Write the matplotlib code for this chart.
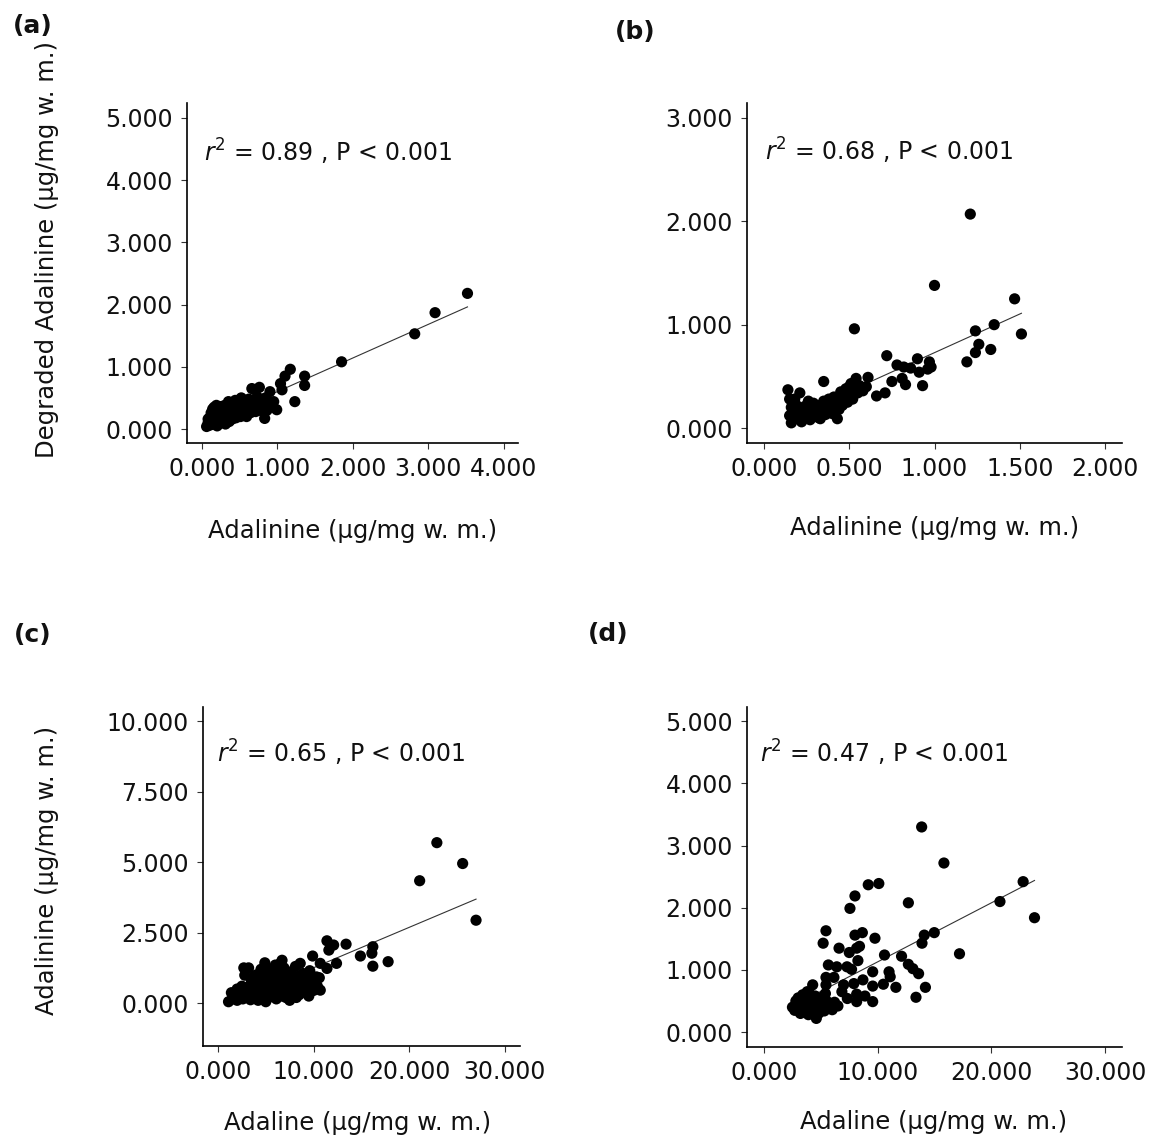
import numpy as np
import matplotlib
matplotlib.use("Agg")
import matplotlib.pyplot as plt

plt.rcParams['font.family'] = ['DejaVu Sans']
plt.rcParams['mathtext.fontset'] = 'dejavusans'

# ---------------- data ----------------
# (a) Adalinine vs Degraded Adalinine
a_x = [3.52, 3.09, 2.82, 1.85, 1.36, 1.36, 1.23, 1.17, 1.10, 1.04,
       1.06, 0.99, 0.90, 0.95, 0.66, 0.76, 0.83,
       0.06, 0.08, 0.10, 0.12, 0.13, 0.14, 0.15, 0.16, 0.17, 0.18,
       0.19, 0.20, 0.21, 0.22, 0.23, 0.24, 0.25, 0.26, 0.27, 0.28,
       0.29, 0.30, 0.31, 0.32, 0.33, 0.34, 0.35, 0.36, 0.37, 0.38,
       0.39, 0.40, 0.41, 0.42, 0.43, 0.44, 0.45, 0.46, 0.47, 0.48,
       0.50, 0.51, 0.52, 0.53, 0.54, 0.55, 0.56, 0.58, 0.59, 0.60,
       0.62, 0.63, 0.64, 0.66, 0.68, 0.70, 0.71, 0.73, 0.75, 0.77,
       0.79, 0.81, 0.84, 0.86, 0.88, 0.92, 0.10, 0.12, 0.14, 0.08]
a_y = [2.18, 1.87, 1.53, 1.08, 0.85, 0.70, 0.44, 0.96, 0.85, 0.73,
       0.63, 0.31, 0.60, 0.44, 0.65, 0.67, 0.17,
       0.04, 0.10, 0.06, 0.14, 0.20, 0.08, 0.28, 0.35, 0.12, 0.22,
       0.38, 0.05, 0.30, 0.16, 0.26, 0.36, 0.10, 0.20, 0.32, 0.14,
       0.24, 0.38, 0.08, 0.28, 0.18, 0.34, 0.44, 0.12, 0.24, 0.30,
       0.40, 0.16, 0.22, 0.34, 0.28, 0.46, 0.18, 0.38, 0.26, 0.32,
       0.42, 0.20, 0.50, 0.30, 0.24, 0.36, 0.44, 0.28, 0.20, 0.38,
       0.48, 0.32, 0.26, 0.40, 0.34, 0.46, 0.28, 0.52, 0.38, 0.30,
       0.44, 0.36, 0.50, 0.30, 0.42, 0.36, 0.18, 0.26, 0.32, 0.16]

# (b)
b_x = [1.21, 1.00, 1.47, 1.51, 1.35, 1.24, 1.26, 1.24, 1.33, 1.19,
       0.53, 0.72, 0.90, 0.97, 0.98, 0.96, 0.91, 0.86, 0.82, 0.78,
       0.93, 0.83, 0.81, 0.75, 0.71, 0.66, 0.61, 0.60, 0.54, 0.55,
       0.50, 0.47, 0.35, 0.14, 0.15, 0.21, 0.43, 0.16,
       0.15, 0.16, 0.17, 0.18, 0.19, 0.20, 0.21, 0.22, 0.23, 0.24,
       0.25, 0.26, 0.27, 0.28, 0.29, 0.30, 0.31, 0.32, 0.33, 0.34,
       0.35, 0.36, 0.37, 0.38, 0.39, 0.40, 0.41, 0.42, 0.44, 0.45,
       0.46, 0.47, 0.48, 0.49, 0.50, 0.51, 0.52, 0.53, 0.56, 0.58,
       0.40, 0.44, 0.18, 0.26, 0.33]
b_y = [2.07, 1.38, 1.25, 0.91, 1.00, 0.94, 0.81, 0.73, 0.76, 0.64,
       0.96, 0.70, 0.67, 0.64, 0.59, 0.57, 0.54, 0.58, 0.59, 0.61,
       0.41, 0.42, 0.48, 0.45, 0.34, 0.31, 0.49, 0.40, 0.48, 0.34,
       0.40, 0.34, 0.45, 0.37, 0.28, 0.34, 0.09, 0.05,
       0.12, 0.20, 0.08, 0.15, 0.22, 0.10, 0.17, 0.06, 0.14, 0.21,
       0.11, 0.18, 0.08, 0.15, 0.24, 0.12, 0.19, 0.10, 0.22, 0.16,
       0.26, 0.13, 0.20, 0.28, 0.17, 0.24, 0.30, 0.20, 0.27, 0.35,
       0.22, 0.29, 0.38, 0.25, 0.32, 0.43, 0.28, 0.37, 0.41, 0.36,
       0.14, 0.18, 0.28, 0.26, 0.09]

# (c) Adaline vs Adalinine
c_x = [22.9, 25.6, 21.1, 27.0, 17.8, 16.2, 16.1, 16.2, 14.9, 13.4,
       12.1, 11.4, 11.6, 12.4, 11.4, 10.7, 9.9, 10.3, 10.7, 8.6,
       6.7, 4.9, 2.7, 3.2, 2.8, 1.1, 1.4,
       1.5, 1.8, 2.0, 2.2, 2.4, 2.6, 2.8, 3.0, 3.1, 3.3,
       3.4, 3.6, 3.7, 3.9, 4.0, 4.1, 4.2, 4.3, 4.4, 4.5,
       4.6, 4.7, 4.8, 4.9, 5.0, 5.1, 5.2, 5.3, 5.4, 5.5,
       5.6, 5.7, 5.8, 5.9, 6.0, 6.1, 6.2, 6.3, 6.4, 6.5,
       6.6, 6.7, 6.8, 6.9, 7.0, 7.1, 7.2, 7.3, 7.4, 7.5,
       7.6, 7.7, 7.8, 7.9, 8.0, 8.1, 8.2, 8.3, 8.4, 8.5,
       8.6, 8.8, 8.9, 9.0, 9.2, 9.3, 9.5, 9.6, 9.8, 10.0,
       10.2, 10.4, 10.6, 3.5, 2.5, 4.0, 5.0, 6.0, 4.5, 5.5,
       3.8, 6.5, 7.5, 2.0, 4.2, 5.2, 6.2, 7.2, 8.2, 9.5]
c_y = [5.69, 4.95, 4.34, 2.94, 1.47, 2.00, 1.77, 1.31, 1.67, 2.09,
       2.06, 2.21, 1.88, 1.41, 1.23, 1.41, 1.67, 0.93, 0.46, 1.41,
       1.52, 1.43, 1.25, 1.25, 0.99, 0.05, 0.37,
       0.15, 0.30, 0.10, 0.22, 0.40, 0.15, 0.30, 0.55, 0.20, 0.40,
       0.12, 0.30, 0.60, 0.20, 0.45, 0.80, 0.10, 0.35, 0.62, 0.25,
       0.95, 0.48, 0.15, 0.72, 0.35, 1.10, 0.55, 0.20, 0.85, 0.42,
       0.65, 1.20, 0.30, 0.90, 0.50, 0.15, 0.75, 1.05, 0.38, 0.60,
       0.25, 0.95, 0.45, 1.25, 0.70, 0.20, 0.55, 0.85, 0.35, 1.10,
       0.62, 0.28, 0.90, 0.48, 0.72, 1.30, 0.40, 0.60, 0.95, 0.30,
       0.78, 0.50, 1.05, 0.65, 0.40, 0.85, 0.55, 1.15, 0.70, 0.45,
       0.80, 0.60, 0.90, 0.80, 0.60, 1.00, 0.05, 1.35, 1.20, 1.00,
       0.95, 1.40, 0.10, 0.50, 0.55, 0.75, 0.35, 1.00, 0.20, 0.25]

# (d)
d_x = [13.87, 15.83, 22.8, 20.76, 23.8, 10.1, 9.17, 8.0, 7.56, 12.7,
       17.2, 14.98, 14.1, 13.9, 14.2, 13.37, 13.6, 13.1, 12.7, 12.1,
       10.6, 11.0, 11.1, 10.5, 11.6, 9.76, 8.65, 8.0, 8.15, 7.5,
       8.4, 5.45, 5.2, 6.6, 8.26, 9.56, 9.56, 9.56, 7.3, 7.7,
       5.66, 6.4, 5.45, 6.15, 5.45, 7.0, 7.9, 8.7, 6.85, 7.33,
       8.15, 8.15, 8.88, 4.28, 4.6,
       2.5, 2.7, 2.9, 3.0, 3.1, 3.2, 3.3, 3.4, 3.5, 3.6,
       3.7, 3.8, 3.9, 4.0, 4.1, 4.2, 4.3, 4.4, 4.5, 4.6,
       4.7, 4.8, 4.9, 5.0, 5.1, 5.2, 5.3, 5.5, 5.6, 5.8,
       6.0, 6.2, 6.5, 3.0, 4.0, 3.5, 4.5, 2.8, 3.8, 5.4]
d_y = [3.30, 2.72, 2.42, 2.10, 1.84, 2.39, 2.37, 2.19, 1.99, 2.08,
       1.26, 1.60, 1.56, 1.43, 0.72, 0.56, 0.94, 1.02, 1.09, 1.22,
       1.24, 0.97, 0.89, 0.77, 0.72, 1.51, 1.60, 1.56, 1.35, 1.28,
       1.38, 1.63, 1.43, 1.35, 1.15, 0.97, 0.74, 0.49, 1.05, 1.01,
       1.08, 1.05, 0.88, 0.88, 0.76, 0.76, 0.78, 0.84, 0.65, 0.54,
       0.61, 0.49, 0.58, 0.76, 0.22,
       0.40, 0.35, 0.45, 0.55, 0.38, 0.30, 0.48, 0.60, 0.40, 0.33,
       0.52, 0.45, 0.28, 0.62, 0.38, 0.50, 0.32, 0.44, 0.58, 0.36,
       0.48, 0.30, 0.42, 0.55, 0.38, 0.46, 0.34, 0.50, 0.40, 0.45,
       0.36, 0.48, 0.42, 0.42, 0.42, 0.52, 0.30, 0.50, 0.65, 0.62]

panel_letters = ["(a)", "(b)", "(c)", "(d)"]
stats_text = ["0.89", "0.68", "0.65", "0.47"]
x_labels = ["Adalinine (\u03bcg/mg w. m.)", "Adalinine (\u03bcg/mg w. m.)",
            "Adaline (\u03bcg/mg w. m.)", "Adaline (\u03bcg/mg w. m.)"]
y_labels = ["Degraded Adalinine (\u03bcg/mg w. m.)", "Adalinine (\u03bcg/mg w. m.)"]
x_ticks = [[0, 1, 2, 3, 4], [0, 0.5, 1.0, 1.5, 2.0], [0, 10, 20, 30], [0, 10, 20, 30]]
y_ticks = [[0, 1, 2, 3, 4, 5], [0, 1, 2, 3], [0, 2.5, 5, 7.5, 10], [0, 1, 2, 3, 4, 5]]

# ---------------- layout ----------------
W, H = 1157, 1146
fig = plt.figure(figsize=(W / 100, H / 100), dpi=100)

def box(l, r, t, b):
    return [l / W, 1 - b / H, (r - l) / W, (b - t) / H]

boxes = [box(187, 518, 103, 443), box(747, 1122, 103, 443),
         box(203, 520, 707, 1046), box(747, 1122, 707, 1047)]
xlims = [(-0.20, 4.19), (-0.10, 2.10), (-1.57, 31.6), (-1.50, 31.5)]
ylims = [(-0.225, 5.24), (-0.145, 3.145), (-1.52, 10.5), (-0.24, 5.23)]
data = [(a_x, a_y), (b_x, b_y), (c_x, c_y), (d_x, d_y)]

tick_fs = 17
label_fs = 17.5
ink = '#111111'

for i, (bx, (xs, ys)) in enumerate(zip(boxes, data)):
    ax = fig.add_axes(bx)
    xs = np.asarray(xs, float)
    ys = np.asarray(ys, float)
    ax.scatter(xs, ys, s=65, color='black', edgecolors='none', zorder=3)
    k, c0 = np.polyfit(xs, ys, 1)
    xl = np.array([xs.min(), xs.max()])
    ax.plot(xl, k * xl + c0, color='#333333', lw=0.8, zorder=2)
    ax.set_xlim(*xlims[i])
    ax.set_ylim(*ylims[i])
    ax.set_xticks(x_ticks[i])
    ax.set_yticks(y_ticks[i])
    ax.set_xticklabels(["%.3f" % v for v in x_ticks[i]])
    ax.set_yticklabels(["%.3f" % v for v in y_ticks[i]])
    for s in ['top', 'right']:
        ax.spines[s].set_visible(False)
    for s in ['left', 'bottom']:
        ax.spines[s].set_linewidth(1.2)
        ax.spines[s].set_color('black')
    ax.tick_params(axis='both', length=4, width=0.8, color='#333333',
                   labelsize=tick_fs, labelcolor=ink, pad=6)

# stats text
stat_pos = [(204, 162), (765, 161), (217, 763), (760, 763)]
for (px, py), r in zip(stat_pos, stats_text):
    fig.text(px / W, 1 - py / H, r"$r^2$" + " = %s , P < 0.001" % r,
             ha='left', va='baseline', fontsize=17, color=ink)

# panel letters
letter_pos = [(33, 26), (635, 32), (33, 635), (608, 634)]
for (px, py), t in zip(letter_pos, panel_letters):
    fig.text(px / W, 1 - py / H, t, ha='center', va='center',
             fontsize=18, fontweight='bold', color=ink)

# x labels
xlab_pos = [(353, 531), (935, 528), (358, 1123), (934, 1122)]
for (px, py), t in zip(xlab_pos, x_labels):
    fig.text(px / W, 1 - py / H, t, ha='center', va='center',
             fontsize=label_fs, color=ink)

# y labels
ylab_pos = [(47, 250), (47, 870)]
for (px, py), t in zip(ylab_pos, y_labels):
    fig.text(px / W, 1 - py / H, t, ha='center', va='center', rotation=90,
             fontsize=label_fs, color=ink)

fig.savefig("out.png", dpi=100, facecolor='white')
